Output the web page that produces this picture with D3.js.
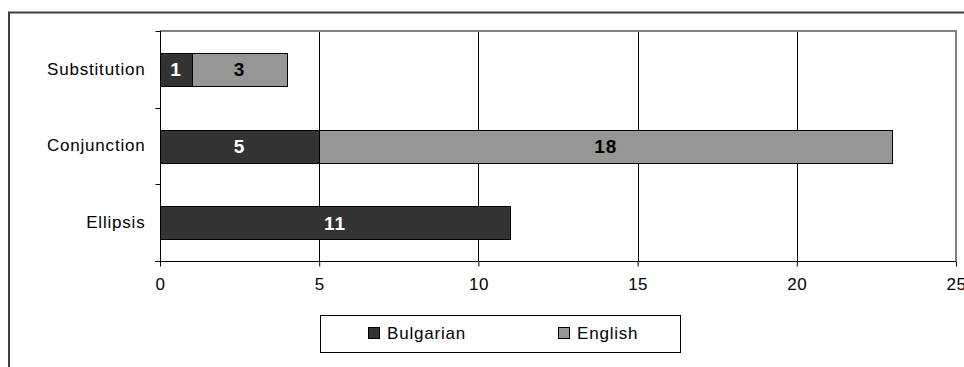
<!doctype html>
<html>
<head>
<script type='text/javascript' src='https://d3js.org/d3.v7.min.js'></script>
<style>
body { margin: 0; background: #fff; }
text { font-family: Arial, "Liberation Sans", sans-serif; }
</style>
</head>
<body>
<script>
var width = 964, height = 367;
// data
var categories = ['Substitution', 'Conjunction', 'Ellipsis'];
var seriesNames = ['Bulgarian', 'English'];
var bulgarian = [1, 5, 11];
var english = [3, 18, 0];
var xTicks = [0, 5, 10, 15, 20, 25];
var colors = ['#333333', '#969696'];
var labelColors = ['#ffffff', '#000000'];

var svg = d3.select('body').append('svg').attr('width', width).attr('height', height);

// outer chart border (cut off at right and bottom)
svg.append('rect').attr('x', 9).attr('y', 12.5).attr('width', 1000).attr('height', 400)
  .attr('fill', 'none').attr('stroke', '#404040').attr('stroke-width', 2);

var plot = {left: 160, top: 31, right: 956, bottom: 261};

var x = d3.scaleLinear().domain([0, 25]).range([plot.left, plot.right]);
var y = d3.scaleBand().domain(categories).range([plot.top, plot.bottom]).paddingInner(0.57).paddingOuter(0.285);

// stacked data
var rows = categories.map(function(c, i) { return {cat: c, Bulgarian: bulgarian[i], English: english[i]}; });
var stacked = d3.stack().keys(seriesNames)(rows);

// gridlines
svg.append('g').selectAll('line').data(xTicks.slice(1, -1)).join('line')
  .attr('x1', function(d) { return Math.round(x(d)) + 0.5; })
  .attr('x2', function(d) { return Math.round(x(d)) + 0.5; })
  .attr('y1', plot.top).attr('y2', plot.bottom)
  .attr('stroke', '#000').attr('stroke-width', 1);

// plot frame top / right (gray)
svg.append('path')
  .attr('d', 'M' + plot.left + ',' + plot.top + 'H' + plot.right + 'V' + plot.bottom)
  .attr('fill', 'none').attr('stroke', '#808080').attr('stroke-width', 2);

// bars
var groups = svg.append('g').selectAll('g').data(stacked).join('g')
  .attr('fill', function(d, i) { return colors[i]; });
groups.selectAll('rect').data(function(d) { return d.filter(function(e) { return e[1] - e[0] > 0; }); }).join('rect')
  .attr('x', function(d) { return Math.round(x(d[0])) + 0.5; })
  .attr('width', function(d) { return Math.round(x(d[1])) - Math.round(x(d[0])); })
  .attr('y', function(d) { return Math.round(y(d.data.cat)) + 0.5; })
  .attr('height', Math.round(y.bandwidth()))
  .attr('stroke', '#000').attr('stroke-width', 1);

// bar labels
svg.append('g').selectAll('g').data(stacked).join('g')
  .each(function(s, i) {
    d3.select(this).selectAll('text').data(s.filter(function(e) { return e[1] - e[0] > 0; })).join('text')
      .attr('x', function(d) { return (x(d[0]) + x(d[1])) / 2; })
      .attr('y', function(d) { return y(d.data.cat) + y.bandwidth() / 2; })
      .attr('dy', '0.36em')
      .attr('text-anchor', 'middle')
      .attr('font-size', 19).attr('font-weight', 'bold')
      .style('letter-spacing', '1px')
      .attr('fill', labelColors[i])
      .text(function(d) { return d[1] - d[0]; });
  });

// x axis
var xAxis = svg.append('g').attr('transform', 'translate(0,' + (plot.bottom + 0.5) + ')')
  .call(d3.axisBottom(x).tickValues(xTicks).tickSize(5).tickPadding(11));
xAxis.select('.domain').attr('d', 'M' + (plot.left - 5) + ',0H' + plot.right).attr('stroke', '#000');
xAxis.selectAll('text').attr('font-size', 17).attr('font-family', 'Arial, "Liberation Sans", sans-serif')
  .attr('fill', '#000').style('letter-spacing', '0.5px');

// y axis
var yAxis = svg.append('g').attr('transform', 'translate(' + (plot.left + 0.5) + ',0)')
  .call(d3.axisLeft(y).tickSize(0).tickPadding(15));
yAxis.select('.domain').attr('d', 'M0,' + plot.top + 'V' + plot.bottom).attr('stroke', '#000');
yAxis.selectAll('text').attr('font-size', 17).attr('font-family', 'Arial, "Liberation Sans", sans-serif')
  .attr('fill', '#000').style('letter-spacing', '0.8px');
// category separator ticks
yAxis.append('g').selectAll('line').data(d3.range(categories.length + 1)).join('line')
  .attr('x1', -5).attr('x2', 0)
  .attr('y1', function(d) { return Math.round(plot.top + d * (plot.bottom - plot.top) / categories.length) + 0.5; })
  .attr('y2', function(d) { return Math.round(plot.top + d * (plot.bottom - plot.top) / categories.length) + 0.5; })
  .attr('stroke', '#000');

// legend
var legend = svg.append('g');
legend.append('rect').attr('x', 320.5).attr('y', 315.5).attr('width', 360).attr('height', 37)
  .attr('fill', '#fff').attr('stroke', '#000');
var legendX = [368, 558];
var items = legend.selectAll('g').data(seriesNames).join('g')
  .attr('transform', function(d, i) { return 'translate(' + legendX[i] + ',327)'; });
items.append('rect').attr('x', 0.5).attr('y', 0.5).attr('width', 11).attr('height', 11)
  .attr('fill', function(d, i) { return colors[i]; }).attr('stroke', '#000');
items.append('text').attr('x', 19).attr('y', 6).attr('dy', '0.36em')
  .attr('font-size', 17).style('letter-spacing', '0.8px').text(function(d) { return d; });
</script>
</body>
</html>
